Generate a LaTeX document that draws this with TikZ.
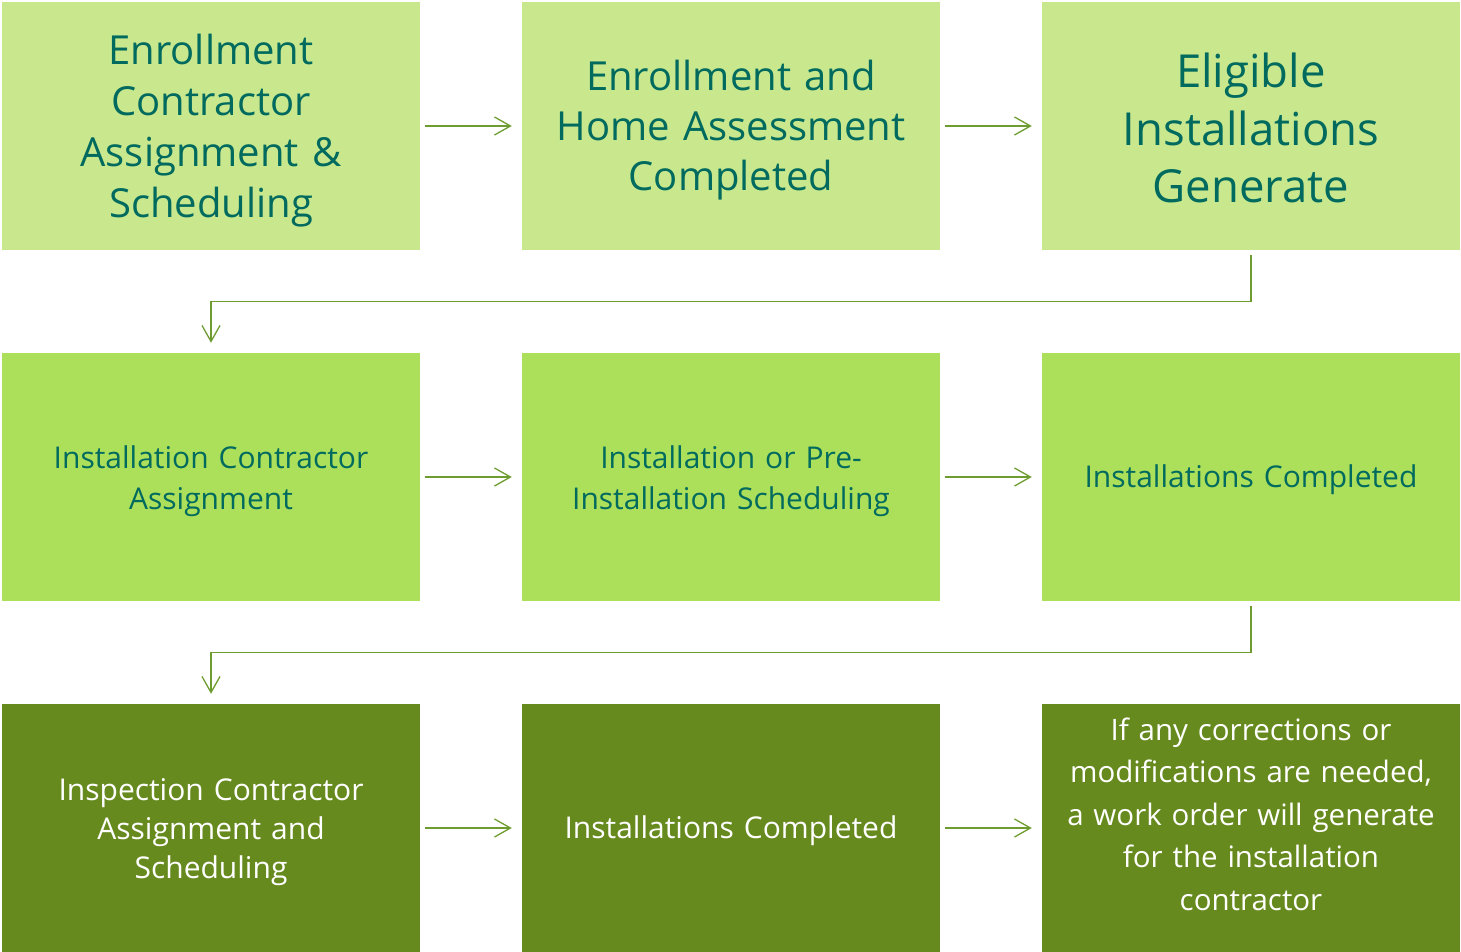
\documentclass[tikz,border=0pt]{standalone}
\usepackage{fontspec}
\setmainfont{Open Sans}
\usepackage{xcolor}
\usetikzlibrary{arrows.meta}

\definecolor{paleleaf}{HTML}{C9E88E}
\definecolor{leaf}{HTML}{ADE05A}
\definecolor{moss}{HTML}{668A1E}
\definecolor{tealtext}{HTML}{006A5E}
\definecolor{flowline}{HTML}{6E9C30}

\begin{document}
\begin{tikzpicture}[x=1pt,y=1pt,
  box/.style={rectangle,minimum width=418pt,minimum height=248pt,inner sep=0pt},
  stepA/.style={box,fill=paleleaf},
  stepB/.style={box,fill=leaf},
  stepC/.style={box,fill=moss},
  ink/.style={inner sep=0pt,align=center,text width=400pt,text=tealtext},
  inkwhite/.style={ink,text=white},
  flow/.style={draw=flowline,line width=1.3pt,shorten <=5pt,shorten >=10pt,
    -{Straight Barb[length=16pt,width=18pt,line width=1.3pt]}}]
\useasboundingbox (0,0) rectangle (1461,-952);
% boxes
\node[stepA] (enroll) at (211,-126) {};
\node[stepA] (assess) at (731,-126) {};
\node[stepA] (eligible) at (1251,-126) {};
\node[stepB] (instassign) at (211,-477) {};
\node[stepB] (instsched) at (731,-477) {};
\node[stepB] (instdone) at (1251,-477) {};
\node[stepC] (inspect) at (211,-828) {};
\node[stepC] (inspdone) at (731,-828) {};
\node[stepC] (workorder) at (1251,-828) {};
% box texts
\node[ink,font=\fontsize{40}{51}\selectfont] (enrolltxt) at ([yshift=-5]enroll.center)
  {Enrollment\\Contractor\\Assignment \&\\Scheduling};
\node[ink,font=\fontsize{40}{50}\selectfont] (assesstxt) at ([yshift=-4]assess.center)
  {Enrollment and\\Home Assessment\\Completed};
\node[ink,font=\fontsize{45.5}{57.5}\selectfont] (eligibletxt) at ([yshift=-2]eligible.center)
  {Eligible\\Installations\\Generate};
\node[ink,font=\fontsize{30}{41}\selectfont] (instassigntxt) at ([yshift=-4]instassign.center)
  {Installation Contractor\\Assignment};
\node[ink,font=\fontsize{30}{41}\selectfont] (instschedtxt) at ([yshift=-4]instsched.center)
  {Installation or Pre-\\Installation Scheduling};
\node[ink,font=\fontsize{30}{41}\selectfont] (instdonetxt) at ([yshift=-3]instdone.center)
  {Installations Completed};
\node[inkwhite,font=\fontsize{30}{39}\selectfont] (inspecttxt) at ([yshift=-4]inspect.center)
  {Inspection Contractor\\Assignment and\\Scheduling};
\node[inkwhite,font=\fontsize{30}{39}\selectfont] (inspdonetxt) at ([yshift=-3]inspdone.center)
  {Installations Completed};
\node[inkwhite,font=\fontsize{29.5}{42.5}\selectfont] (workordertxt) at ([yshift=14]workorder.center)
  {If any corrections or\\modifications are needed,\\a work order will generate\\for the installation\\contractor};
% connectors
\draw[flow] (enroll.east) -- (assess.west);
\draw[flow] (assess.east) -- (eligible.west);
\draw[flow] (eligible.south) -- ++(0,-51) -| (instassign.north);
\draw[flow] (instassign.east) -- (instsched.west);
\draw[flow] (instsched.east) -- (instdone.west);
\draw[flow] (instdone.south) -- ++(0,-51) -| (inspect.north);
\draw[flow] (inspect.east) -- (inspdone.west);
\draw[flow] (inspdone.east) -- (workorder.west);
\end{tikzpicture}
\end{document}
